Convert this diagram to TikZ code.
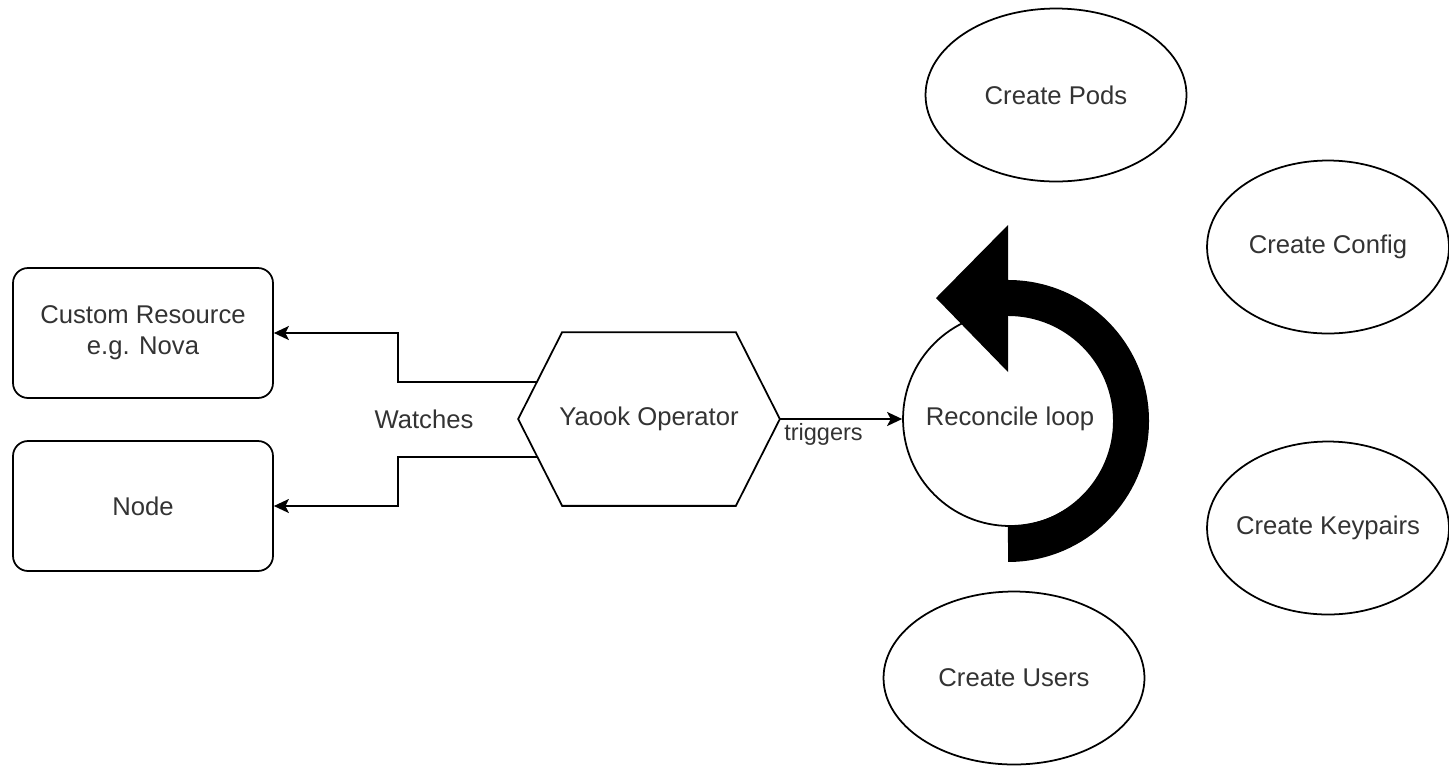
\documentclass[tikz,border=0pt]{standalone}
\usepackage{fontspec}
\setmainfont{Liberation Sans}
\usetikzlibrary{arrows.meta,shapes.geometric,positioning}

\begin{document}
\begin{tikzpicture}[x=0.02cm,y=-0.02cm,line width=1pt,
  >={Stealth[length=0.3cm,width=0.28cm,inset=0.07cm]},
  every node/.style={font=\fontsize{14.6}{17.6}\selectfont,text=black!80},
  box node/.style={draw,rectangle,rounded corners=0.3cm,minimum width=5.2cm,minimum height=2.6cm,align=center},
  hex node/.style={minimum width=5.2cm,minimum height=3.44cm},
  loop node/.style={draw,circle,minimum size=4.28cm},
  task node/.style={draw,ellipse,inner xsep=-0.6cm,minimum width=5.22cm,minimum height=3.46cm}]

  \useasboundingbox (0,0) rectangle (1449,765);

  \node[box node] (cr) at (143,333) {Custom Resource\\e.g. Nova};
  \node[box node] (wnode) at (143,506) {Node};
  \node[hex node] (op) at (649,419) {Yaook Operator};
  \node[loop node] (loop) at (1010,419) {Reconcile loop};
  \node (watches) at (424,419) {Watches};

  \node[task node] (pods) at (1056,95) {Create Pods};
  \node[task node,minimum width=4.84cm] (config) at (1328,247) {Create Config};
  \node[task node,minimum width=4.84cm] (keys) at (1328,528) {Create Keypairs};
  \node[task node] (users) at (1014,678) {Create Users};

  % hexagon outline of the operator
  \draw ([xshift=0.88cm]op.north west) -- ([xshift=-0.88cm]op.north east) -- (op.east)
    -- ([xshift=-0.88cm]op.south east) -- ([xshift=0.88cm]op.south west)
    -- coordinate[pos=0.56] (w2) (op.west)
    -- coordinate[pos=0.43] (w1) ([xshift=0.88cm]op.north west) -- cycle;

  \coordinate (elbow) at (398,419);
  \draw[->] (w1) -| (elbow |- cr.east) -- (cr.east);
  \draw[->] (w2) -| (elbow |- wnode.east) -- (wnode.east);

  \path[->] (op.east) edge node[pos=0,anchor=north west,inner sep=2pt,font=\fontsize{13.4}{16}\selectfont] {triggers} (loop.west);

  % the big loop arrow
  \coordinate (spin) at (1008,421);
  \draw[line width=0.72cm] ([yshift=-2.46cm]spin) arc[start angle=90,end angle=-90,radius=123];
  \fill (1008,225) -- (936,298) -- (1008,372) -- cycle;
\end{tikzpicture}
\end{document}
